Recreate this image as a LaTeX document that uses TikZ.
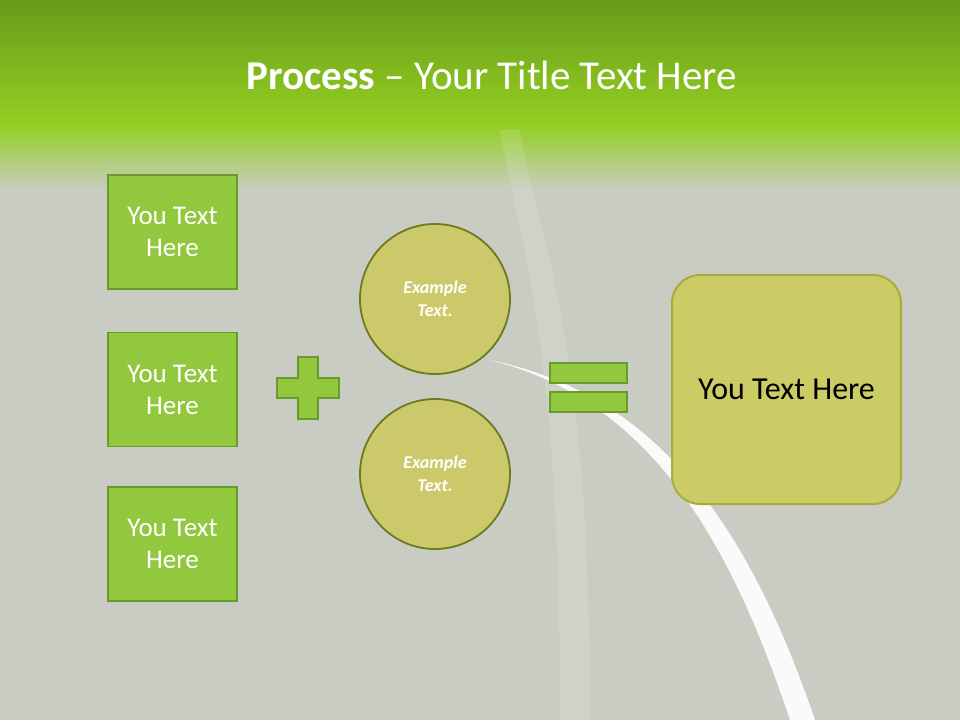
\documentclass[tikz,border=0pt]{standalone}
\usepackage{fontspec}
\setmainfont{Carlito}
\definecolor{topg}{HTML}{6A9A1A}
\definecolor{midg}{HTML}{93D022}
\definecolor{bg}{HTML}{C9CCC2}
\definecolor{boxg}{HTML}{92C83E}
\definecolor{boxb}{HTML}{6B9A2A}
\definecolor{circf}{HTML}{CCC96A}
\definecolor{circb}{HTML}{6E7A22}
\definecolor{rrf}{HTML}{CCCC66}
\definecolor{rrb}{HTML}{A8AD3A}
\begin{document}
\begin{tikzpicture}[x=1pt,y=-1pt,
  gbox/.style={draw=boxb,line width=1.5pt,fill=boxg,minimum width=129pt,minimum height=114pt,text=white,font=\fontsize{27}{32}\selectfont,align=center},
  circ/.style={circle,draw=circb,line width=1.8pt,fill=circf,minimum size=150pt,text=white,font=\fontsize{18}{23}\selectfont\bfseries\itshape,align=center},
  sym/.style={draw=boxb,line width=1.5pt,fill=boxg}]
\useasboundingbox (0,0) rectangle (960,720);
\fill[bg] (0,0) rectangle (960,720);
\shade[top color=topg,bottom color=midg] (0,0) rectangle (960,125);
\shade[top color=midg,bottom color=bg] (0,125) rectangle (960,190);
\fill[white,opacity=0.12] (500,130) .. controls (520,250) and (560,330) .. (560,720) -- (590,720) .. controls (590,330) and (540,250) .. (520,130) -- cycle;
\fill[white,opacity=0.9] (490,360) .. controls (650,400) and (730,540) .. (790,720) -- (815,720) .. controls (750,530) and (660,395) .. (490,360) -- cycle;
\node[font=\fontsize{41}{45}\selectfont,text=white] (title) at (492,75) {\textbf{Process} – Your Title Text Here};
\node[gbox] (b1) at (172.5,232) {You Text\\Here};
\node[gbox] (b2) at (172.5,389.5) {You Text\\Here};
\node[gbox] (b3) at (172.5,544) {You Text\\Here};
\draw[sym] (298,357) -- (318,357) -- (318,378) -- (339,378) -- (339,398) -- (318,398) -- (318,419) -- (298,419) -- (298,398) -- (277,398) -- (277,378) -- (298,378) -- cycle;
\node[circ] (c1) at (435,299) {Example\\Text.};
\node[circ] (c2) at (435,474) {Example\\Text.};
\draw[sym] (550,363) rectangle (627,383);
\draw[sym] (550,392) rectangle (627,412);
\node[draw=rrb,line width=2pt,fill=rrf,rounded corners=28pt,minimum width=229pt,minimum height=229pt,font=\fontsize{32}{36}\selectfont] (r) at (786.5,389.5) {You Text Here};
\end{tikzpicture}
\end{document}
